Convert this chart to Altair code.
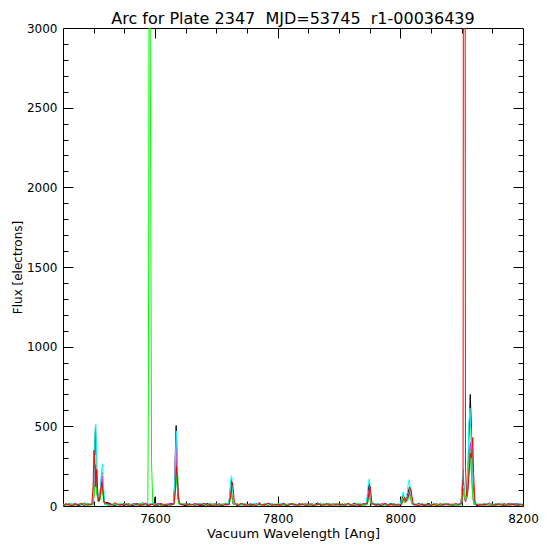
import altair as alt
import pandas as pd

FONT = "DejaVu Sans"
TITLE = "Arc for Plate 2347 \u00a0MJD=53745 \u00a0r1-00036439"
X_TITLE = "Vacuum Wavelength [Ang]"
Y_TITLE = "Flux [electrons]"

X_DOMAIN = [7450, 8200]
Y_DOMAIN = [0, 3000]
X_MAJOR = [7600, 7800, 8000, 8200]
X_MAJOR_TICKS = [7600, 7800, 8000]
X_MINOR = [7500, 7550, 7650, 7700, 7750, 7850, 7900, 7950, 8050, 8100, 8150]
Y_MAJOR = [0, 500, 1000, 1500, 2000, 2500, 3000]
Y_MAJOR_TICKS = [500, 1000, 1500, 2000, 2500]
Y_MINOR = [100, 200, 300, 400, 600, 700, 800, 900, 1100, 1200, 1300, 1400,
           1600, 1700, 1800, 1900, 2100, 2200, 2300, 2400, 2600, 2700, 2800, 2900]

# baseline sampling grid (Angstrom)
BASE_WAVE = list(range(7450, 8201, 5))

BLACK_BASE = [8, 3, 12, 5, 15, 2, 9, 18, 4, 11,
              6, 14, 3, 10, 7, 19, 5, 2, 13, 8,
              4, 16, 9, 3, 11, 6, 20, 7, 2, 12,
              9, 5, 15, 3, 8, 13, 4, 10, 18, 6,
              3, 11, 7, 14, 5, 9, 2, 16, 8, 4,
              12, 6, 3, 17, 9, 5, 11, 2, 14, 7,
              10, 4, 13, 6, 21, 3, 8, 15, 5, 9,
              2, 12, 7, 4, 16, 10, 3, 9, 14, 6,
              11, 5, 8, 19, 3, 13, 7, 4, 10, 15,
              6, 2, 12, 8, 5, 17, 9, 3, 11, 7,
              14, 4, 10, 6, 2, 13, 8, 16, 5, 9,
              3, 11, 7, 15, 4, 10, 6, 12, 2, 18,
              8, 5, 13, 3, 9, 14, 6, 11, 4, 7,
              16, 2, 10, 8, 12, 5, 15, 3, 9, 6,
              11, 4, 14, 7, 3, 10, 17, 5, 8, 12,
              6]
RED_BASE = [5, 14, 7, 2, 11, 9, 16, 3, 12, 6,
            10, 4, 17, 8, 3, 13, 6, 22, 5, 9,
            12, 7, 3, 15, 10, 4, 8, 14, 6, 11,
            2, 16, 9, 5, 13, 7, 11, 3, 19, 8,
            14, 6, 10, 4, 12, 8, 17, 5, 9, 3,
            7, 15, 2, 11, 6, 13, 9, 4, 16, 10,
            5, 12, 8, 3, 14, 7, 10, 18, 4, 11,
            9, 6, 15, 2, 10, 13, 5, 8, 12, 3,
            16, 7, 4, 11, 9, 6, 14, 10, 3, 13,
            8, 12, 5, 17, 7, 2, 10, 6, 15, 9,
            4, 13, 8, 11, 3, 16, 6, 9, 12, 5,
            10, 7, 14, 4, 18, 8, 3, 11, 6, 13,
            5, 9, 2, 15, 7, 12, 10, 4, 17, 8,
            11, 6, 13, 3, 9, 14, 5, 10, 7, 20,
            3, 12, 8, 6, 15, 4, 11, 9, 13, 5,
            10]
GREEN_BASE = [11, 6, 15, 9, 4, 13, 7, 17, 3, 10,
              8, 12, 5, 16, 9, 2, 14, 6, 11, 7,
              15, 4, 10, 13, 6, 18, 3, 9, 12, 5,
              7, 14, 2, 11, 8, 5, 16, 10, 4, 13,
              9, 3, 12, 6, 15, 11, 7, 4, 19, 8,
              13, 5, 9, 14, 3, 10, 6, 12, 8, 16,
              4, 11, 7, 2, 13, 9, 15, 5, 10, 6,
              14, 8, 3, 12, 6, 17, 9, 4, 11, 7,
              10, 15, 5, 9, 13, 2, 8, 16, 6, 12,
              3, 9, 14, 7, 11, 5, 18, 8, 4, 10,
              12, 6, 9, 15, 3, 11, 7, 13, 5, 8,
              16, 4, 10, 6, 12, 9, 2, 14, 7, 11,
              6, 13, 8, 4, 17, 10, 5, 9, 12, 3,
              9, 15, 6, 11, 4, 13, 8, 7, 14, 5,
              12, 3, 10, 16, 7, 9, 5, 13, 6, 11,
              4]
BLUE_BASE = [3, 9, 13, 6, 10, 4, 15, 8, 12, 5,
             14, 7, 2, 11, 6, 17, 9, 4, 13, 8,
             6, 12, 8, 3, 16, 10, 5, 11, 7, 14,
             11, 4, 13, 9, 2, 15, 7, 12, 6, 10,
             5, 16, 8, 11, 7, 3, 13, 9, 4, 12,
             9, 2, 14, 6, 12, 8, 18, 5, 10, 7,
             13, 7, 4, 15, 9, 6, 11, 3, 14, 8,
             6, 10, 16, 5, 8, 12, 4, 15, 7, 11,
             2, 13, 9, 6, 17, 4, 10, 8, 12, 5,
             15, 7, 3, 11, 9, 14, 6, 12, 2, 10,
             8, 16, 5, 9, 13, 7, 3, 11, 15, 6,
             12, 4, 8, 14, 6, 10, 17, 5, 9, 3,
             11, 7, 15, 2, 12, 8, 6, 14, 4, 10,
             7, 13, 9, 5, 16, 3, 11, 8, 12, 6,
             14, 5, 10, 7, 4, 13, 9, 15, 3, 8,
             12]
CYAN_BASE = [12, 5, 10, 17, 7, 13, 4, 9, 15, 8,
             3, 11, 16, 6, 12, 9, 5, 14, 7, 19,
             10, 4, 13, 8, 2, 15, 11, 6, 17, 9,
             14, 7, 5, 12, 10, 3, 16, 8, 13, 6,
             11, 15, 4, 9, 6, 18, 10, 2, 12, 7,
             5, 13, 10, 16, 8, 4, 12, 9, 3, 14,
             8, 6, 17, 11, 4, 10, 13, 7, 15, 2,
             12, 16, 5, 9, 14, 7, 3, 11, 8, 13,
             6, 10, 12, 4, 15, 9, 18, 5, 11, 7,
             13, 3, 9, 14, 6, 11, 8, 16, 4, 10,
             7, 12, 15, 5, 10, 4, 14, 8, 13, 2,
             9, 17, 6, 11, 3, 13, 7, 15, 10, 5,
             14, 8, 12, 6, 10, 16, 4, 9, 3, 11,
             5, 12, 7, 15, 8, 10, 13, 2, 16, 9,
             8, 14, 6, 11, 17, 3, 10, 7, 12, 15,
             7]
MAGENTA_BASE = [7, 13, 4, 10, 16, 6, 11, 3, 14, 9,
                12, 5, 9, 15, 2, 10, 7, 13, 8, 4,
                16, 9, 6, 11, 14, 5, 8, 19, 3, 12,
                6, 10, 13, 4, 9, 15, 7, 11, 2, 14,
                8, 12, 5, 17, 10, 6, 13, 3, 9, 11,
                15, 4, 11, 7, 2, 16, 8, 12, 6, 10,
                3, 14, 9, 5, 12, 8, 4, 16, 11, 7,
                10, 2, 13, 8, 15, 5, 11, 6, 9, 17,
                7, 12, 3, 14, 10, 8, 16, 4, 13, 6,
                11, 9, 6, 15, 3, 12, 7, 10, 14, 5,
                9, 4, 13, 7, 11, 16, 5, 8, 3, 12,
                14, 10, 5, 9, 15, 2, 12, 6, 11, 8,
                4, 16, 7, 12, 5, 10, 14, 3, 8, 13,
                10, 6, 11, 4, 13, 8, 2, 15, 9, 7,
                5, 11, 13, 9, 6, 14, 4, 10, 16, 8,
                9]
YELLOW_BASE = [10, 4, 8, 14, 6, 11, 17, 5, 9, 2,
               13, 7, 10, 4, 15, 8, 3, 12, 16, 6,
               9, 14, 5, 11, 7, 2, 13, 10, 6, 15,
               4, 12, 8, 16, 11, 6, 3, 14, 9, 7,
               13, 5, 10, 2, 8, 14, 11, 6, 16, 4,
               10, 7, 15, 9, 4, 12, 6, 18, 3, 11,
               8, 13, 5, 10, 16, 2, 9, 12, 6, 14,
               4, 11, 8, 15, 7, 10, 13, 3, 17, 9,
               12, 6, 10, 2, 14, 8, 5, 11, 9, 16,
               7, 15, 4, 12, 10, 6, 13, 8, 3, 11,
               16, 5, 9, 14, 6, 12, 2, 10, 15, 7,
               3, 13, 11, 8, 4, 16, 9, 6, 12, 10,
               8, 2, 14, 10, 7, 11, 5, 15, 9, 4,
               13, 9, 6, 12, 3, 10, 16, 7, 11, 5,
               9, 15, 7, 4, 12, 8, 14, 6, 10, 13,
               5]

# arc-line samples (wavelength, flux) for each fibre colour; saturated lines run off the top
BLACK_PEAKS = [(7499, 12), (7501, 160), (7502.2, 420), (7503, 500), (7504.5, 260), (7506, 70),
               (7508, 30), (7510, 60), (7512, 150), (7513.5, 210), (7515, 120), (7517, 25),
               (7598.5, 10), (7600, 55), (7601.5, 8),
               (7630, 15), (7632, 130), (7633.5, 380), (7634.5, 505), (7636, 300), (7637.5, 80), (7640, 14),
               (7720, 10), (7722, 60), (7723.5, 140), (7724.5, 165), (7726, 90), (7728, 20),
               (7945, 12), (7947, 60), (7948.5, 130), (7949.5, 140), (7951, 80), (7953, 15),
               (8001, 10), (8003, 45), (8005, 70), (8007, 30), (8009, 40), (8011, 60), (8013, 90),
               (8015, 120), (8016.5, 110), (8018, 60), (8020, 15),
               (8099, 15), (8101, 120), (8102.5, 190), (8104, 90), (8106, 40), (8108, 60), (8110, 180),
               (8112, 450), (8114, 700), (8115.5, 520), (8117, 250), (8119, 80), (8121, 15)]
CYAN_PEAKS = [(7499, 15), (7501, 200), (7502.5, 480), (7503.5, 515), (7505, 300), (7506.5, 90),
              (7509, 45), (7511, 110), (7513, 230), (7514.5, 265), (7516, 140), (7518, 20),
              (7630, 12), (7632, 110), (7633.5, 330), (7635, 470), (7636.5, 280), (7638, 60), (7640, 10),
              (7720, 12), (7722, 80), (7723.5, 170), (7725, 190), (7726.5, 100), (7728.5, 18),
              (7944, 14), (7946, 70), (7948, 150), (7949.5, 170), (7951, 110), (7953, 20),
              (8000, 12), (8002, 50), (8004.5, 90), (8006.5, 45), (8009, 50), (8011, 80), (8013, 140),
              (8014.5, 165), (8016, 120), (8018, 50), (8020, 12),
              (8099, 12), (8101, 160), (8102.5, 230), (8104, 110), (8106, 45), (8108, 90), (8110, 240),
              (8112, 520), (8113.5, 615), (8115, 480), (8117, 200), (8119, 60), (8121, 10)]
RED_PEAKS = [(7497, 10), (7499, 120), (7500.5, 350), (7502, 250), (7503.5, 120), (7505, 230), (7507, 60),
             (7509, 30), (7511, 80), (7513, 150), (7515, 100), (7517, 20),
             (7631, 12), (7633, 90), (7635, 250), (7636.5, 180), (7638.5, 40), (7641, 10),
             (7721, 10), (7723.5, 70), (7726, 150), (7727.5, 110), (7729.5, 20),
             (7946, 12), (7948.5, 70), (7950.5, 125), (7952, 80), (7954, 15),
             (8002, 10), (8005, 40), (8007, 55), (8009, 30), (8012, 50), (8015, 90), (8017, 110),
             (8019, 60), (8021, 12),
             (8100.5, 20), (8102.3, 180), (8102.7, 3000), (8105.7, 3000), (8106.2, 250), (8108, 60),
             (8110, 90), (8112, 200), (8114, 330), (8116, 300), (8118, 430), (8119.5, 200),
             (8121.5, 40), (8123, 10)]
GREEN_PEAKS = [(7499, 10), (7501.5, 90), (7503, 180), (7504.5, 100), (7507, 25), (7511, 40),
               (7513.5, 120), (7515.5, 60), (7518, 12),
               (7586, 8), (7588.3, 25), (7589.2, 648), (7590.2, 3000), (7592.2, 3000), (7594.4, 264),
               (7596.5, 12),
               (7631, 10), (7633, 70), (7634.5, 200), (7636, 120), (7638.5, 15),
               (7721, 8), (7723, 45), (7724.5, 80), (7726, 40), (7728, 10),
               (7946, 10), (7948, 35), (7949.5, 60), (7951, 30), (7953, 8),
               (8002, 10), (8004.5, 50), (8007, 20), (8012, 35), (8015, 70), (8017, 40), (8019.5, 10),
               (8100, 10), (8102, 70), (8103.5, 100), (8105, 50), (8108, 40), (8111, 150),
               (8113.5, 350), (8115.5, 220), (8118, 50), (8120, 10)]
BLUE_PEAKS = [(7499, 12), (7501, 110), (7503, 230), (7504.5, 130), (7507, 35), (7510, 45),
              (7512.5, 140), (7514, 170), (7516, 70), (7518, 12),
              (7630, 10), (7632.5, 110), (7634, 300), (7635.5, 200), (7637.5, 50), (7640, 10),
              (7720, 10), (7722.5, 55), (7724, 110), (7725.5, 70), (7727.5, 12),
              (7945, 10), (7947.5, 60), (7949, 110), (7950.5, 70), (7953, 12),
              (8001, 8), (8004, 40), (8006, 55), (8008, 25), (8011, 50), (8014, 80), (8016, 90),
              (8018, 40), (8020, 10),
              (8099, 10), (8101, 100), (8102.5, 160), (8104, 80), (8106, 30), (8109, 70), (8111, 220),
              (8113, 470), (8114.5, 560), (8116, 380), (8118, 120), (8120, 15)]
MAGENTA_PEAKS = [(7499, 10), (7501, 100), (7502.5, 230), (7503.5, 260), (7505, 150), (7507, 40),
                 (7510, 50), (7512.5, 150), (7514, 190), (7515.5, 110), (7517.5, 15),
                 (7630, 12), (7632, 110), (7633.5, 330), (7634.5, 430), (7636, 240), (7638, 50), (7640, 10),
                 (7720.5, 10), (7722.5, 50), (7724, 100), (7725.5, 60), (7727.5, 10),
                 (7945.5, 10), (7947.5, 45), (7949, 90), (7950.5, 55), (7952.5, 10),
                 (8001, 10), (8004, 35), (8006, 50), (8008, 20), (8011, 45), (8014, 70), (8016, 85),
                 (8018, 35), (8020, 10),
                 (8099, 12), (8101, 80), (8102.5, 110), (8104, 60), (8106.5, 25), (8109, 60), (8111, 170),
                 (8113, 330), (8114.5, 400), (8116, 260), (8118, 80), (8120, 12)]
YELLOW_PEAKS = [(7499, 10), (7501, 140), (7502.5, 300), (7503.5, 320), (7505, 180), (7507, 50),
                (7510, 60), (7512.5, 170), (7514, 200), (7515.5, 120), (7517.5, 15),
                (7630.5, 12), (7632.5, 150), (7634, 340), (7635, 380), (7636.5, 220), (7638.5, 40),
                (7640.5, 10),
                (7720.5, 10), (7722.5, 60), (7724, 120), (7725, 130), (7726.5, 70), (7728.5, 12),
                (7945.5, 10), (7947.5, 50), (7949, 95), (7950, 100), (7951.5, 60), (7953.5, 10),
                (8001, 10), (8004, 40), (8006, 60), (8008, 25), (8011, 50), (8014, 80), (8016, 100),
                (8018, 45), (8020, 10),
                (8099, 10), (8101, 90), (8102.5, 130), (8104, 70), (8106, 30), (8109, 80), (8111, 200),
                (8113, 420), (8114.5, 500), (8116, 340), (8118, 100), (8120, 12)]

SERIES = [
    ("#000000", BLACK_BASE, BLACK_PEAKS),
    ("#0000ff", BLUE_BASE, BLUE_PEAKS),
    ("#ffff00", YELLOW_BASE, YELLOW_PEAKS),
    ("#ff00ff", MAGENTA_BASE, MAGENTA_PEAKS),
    ("#00ffff", CYAN_BASE, CYAN_PEAKS),
    ("#00ff00", GREEN_BASE, GREEN_PEAKS),
    ("#ff0000", RED_BASE, RED_PEAKS),
]

W, H = 460, 478


def build(base, peaks):
    assert len(base) == len(BASE_WAVE)
    pw = [p[0] for p in peaks]
    rows = [(w, f) for w, f in zip(BASE_WAVE, base) if min(abs(w - q) for q in pw) > 3]
    rows += [tuple(p) for p in peaks]
    rows.sort()
    return pd.DataFrame(rows, columns=["wave", "flux"])


xs = alt.Scale(domain=X_DOMAIN, nice=False, zero=False)
ys = alt.Scale(domain=Y_DOMAIN, nice=False, zero=False)

layers = []
for color, base, peaks in SERIES:
    layers.append(
        alt.Chart(build(base, peaks)).mark_line(color=color, strokeWidth=1, clip=True).encode(
            x=alt.X("wave:Q", scale=xs, axis=None),
            y=alt.Y("flux:Q", scale=ys, axis=None),
        )
    )

anchor = pd.DataFrame({"wave": [X_DOMAIN[0]], "flux": [Y_DOMAIN[0]]})


def axis_layer(xaxis, yaxis):
    return alt.Chart(anchor).mark_point(opacity=0).encode(
        x=alt.X("wave:Q", scale=xs, axis=xaxis),
        y=alt.Y("flux:Q", scale=ys, axis=yaxis),
    )


def tick_axis(orient, offset, values, size, domain):
    return alt.Axis(orient=orient, offset=offset, values=values, tickSize=size, ticks=True,
                    labels=False, domain=domain, domainColor="black", domainWidth=1,
                    grid=False, title=None, tickColor="black", tickWidth=1)


label_x = alt.Axis(orient="bottom", values=X_MAJOR, ticks=False, tickSize=0, domain=True,
                   domainColor="black", grid=False, labelFlush=False, labelOverlap=False,
                   labelFont=FONT, labelFontSize=12, labelColor="black", labelPadding=7,
                   format="d", title=X_TITLE, titleFont=FONT, titleFontSize=13,
                   titleFontWeight="normal", titleColor="black", titlePadding=3)
label_y = alt.Axis(orient="left", values=Y_MAJOR, ticks=False, tickSize=0, domain=True,
                   domainColor="black", grid=False, labelOverlap=False,
                   labelFont=FONT, labelFontSize=12, labelColor="black", labelPadding=6,
                   format="d", title=Y_TITLE, titleFont=FONT, titleFontSize=12,
                   titleFontWeight="normal", titleColor="black", titlePadding=2)

layers += [
    axis_layer(label_x, label_y),
    axis_layer(tick_axis("top", -H, X_MAJOR_TICKS, 10, False),
               tick_axis("right", -W, Y_MAJOR_TICKS, 10, False)),
    axis_layer(tick_axis("bottom", -H, X_MAJOR_TICKS, 10, True),
               tick_axis("left", -W, Y_MAJOR_TICKS, 10, True)),
    axis_layer(tick_axis("top", -H, X_MINOR, 5, False),
               tick_axis("right", -W, Y_MINOR, 5, False)),
    axis_layer(tick_axis("bottom", -H, X_MINOR, 5, False),
               tick_axis("left", -W, Y_MINOR, 5, False)),
]

# plot title drawn as a text mark just above the frame
title_layer = alt.Chart(anchor).mark_text(
    text=TITLE, font=FONT, fontSize=16, fontWeight="normal", color="black",
    align="center", baseline="alphabetic", clip=False,
).encode(x=alt.value(W / 2), y=alt.value(-4))
layers.append(title_layer)

chart = alt.layer(*layers).resolve_axis(x="independent", y="independent").properties(
    width=W,
    height=H,
    autosize=alt.AutoSizeParams(type="none"),
    padding={"left": 55, "top": 20, "right": 16, "bottom": 40},
    background="white",
).configure_view(strokeOpacity=0)

chart.save("out.html", embed_options={"renderer": "svg", "actions": False})
